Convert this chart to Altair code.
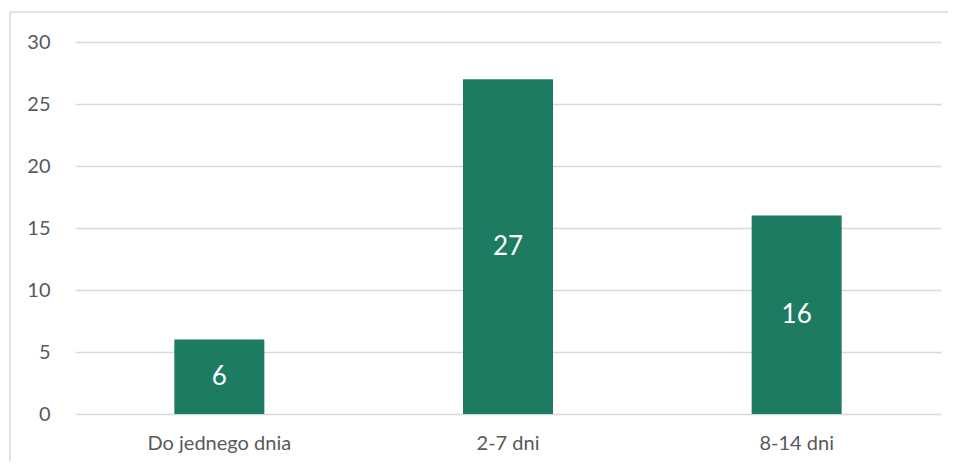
import altair as alt
import pandas as pd

categories = ["Do jednego dnia", "2-7 dni", "8-14 dni"]
values = [6, 27, 16]
y_ticks = [0, 5, 10, 15, 20, 25, 30]

df = pd.DataFrame({"cat": categories, "val": values})

FONT = "Lato"
TXT = "#595959"

x_enc = alt.X("cat:N", sort=categories, title=None,
              scale=alt.Scale(paddingInner=0, paddingOuter=0),
              axis=alt.Axis(labelAngle=0, labelFontSize=20, labelColor=TXT, labelFont=FONT,
                            ticks=False, domain=False, labelPadding=19, grid=False))
y_enc = alt.Y("val:Q", title=None,
              scale=alt.Scale(domain=[0, 30], nice=False),
              axis=alt.Axis(values=y_ticks, labelFontSize=20, labelColor=TXT, labelFont=FONT,
                            ticks=False, domain=False, labelPadding=25,
                            gridColor="#d9d9d9", gridWidth=1.3))

bars = alt.Chart(df).mark_bar(size=90, color="#1d7b62").encode(x=x_enc, y=y_enc)

labels = alt.Chart(df).transform_calculate(half="datum.val / 2").mark_text(
    color="white", fontSize=26, font=FONT, baseline="middle"
).encode(x=alt.X("cat:N", sort=categories), y=alt.Y("half:Q"), text="val:Q")

frame = pd.DataFrame({"a": [0]})
border_left = alt.Chart(frame).mark_rule(color="#d9d9d9", strokeWidth=1.5).encode(
    x=alt.value(-65), y=alt.value(-30), y2=alt.value(500))
border_top = alt.Chart(frame).mark_rule(color="#d9d9d9", strokeWidth=1.5).encode(
    x=alt.value(-65), x2=alt.value(1000), y=alt.value(-30))

chart = alt.layer(bars, labels, border_left, border_top).properties(
    width=866, height=372,
    padding={"left": 67, "top": 34, "right": 7, "bottom": 47},
    autosize=alt.AutoSizeParams(type="none"),
).configure_view(stroke=None)

chart.save("out.html", embed_options={"renderer": "svg", "actions": False})
